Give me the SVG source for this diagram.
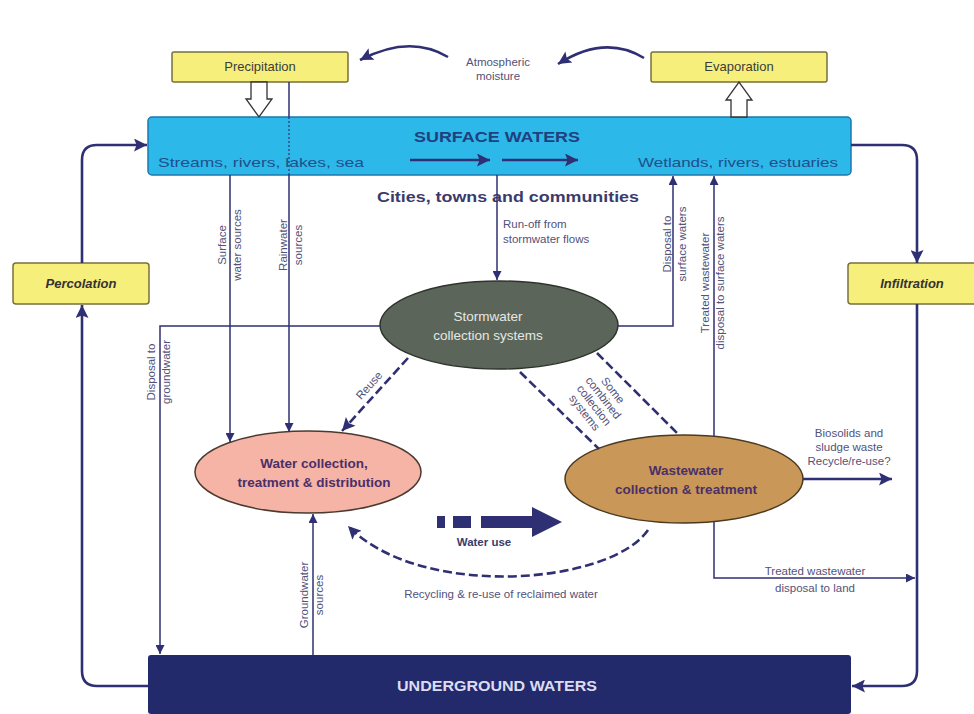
<svg xmlns="http://www.w3.org/2000/svg" width="974" height="714" viewBox="0 0 974 714">
<defs>
<marker id="ah" viewBox="0 0 10 10" refX="10" refY="5" markerWidth="10" markerHeight="9" markerUnits="userSpaceOnUse" orient="auto"><path d="M0,0 L10,5 L0,10 z" fill="#2f2f73"/></marker>
<marker id="ahb" viewBox="0 0 10 10" refX="10" refY="5" markerWidth="15" markerHeight="13" markerUnits="userSpaceOnUse" orient="auto"><path d="M0,0 L10,5 L0,10 L2,5 z" fill="#2f2f73"/></marker>
</defs>
<style>
.t{font-family:"Liberation Sans",Arial,sans-serif}
.lbl{font-family:"Liberation Sans",Arial,sans-serif;font-size:11.5px;fill:#52527a}
.ybox{fill:#f6ef7c;stroke:#77703e;stroke-width:1.5}
.thin{fill:none;stroke:#2f2f73;stroke-width:1.5}
.thick{fill:none;stroke:#2f2f73;stroke-width:2.6}
.dash{fill:none;stroke:#2f2f73;stroke-width:2.6;stroke-dasharray:9 4}
.ell{font-family:"Liberation Sans",Arial,sans-serif;font-size:13.5px;font-weight:bold;fill:#4b2f68;text-anchor:middle}
.yt{font-family:"Liberation Sans",Arial,sans-serif;font-size:13px;fill:#3c3c3c;text-anchor:middle}
.yi{font-family:"Liberation Sans",Arial,sans-serif;font-size:13px;font-weight:bold;font-style:italic;fill:#333;text-anchor:middle}
.hollow{fill:#ffffff;stroke:#333;stroke-width:1.3}
</style>
<rect width="974" height="714" fill="#ffffff"/>

<g id="precipitation">
<rect class="ybox" x="172" y="52" width="176" height="30" rx="2"/>
<text class="yt" x="260" y="71">Precipitation</text>
</g>
<g id="evaporation">
<rect class="ybox" x="651" y="52" width="176" height="30" rx="2"/>
<text class="yt" x="739" y="71">Evaporation</text>
</g>
<g id="atmospheric-moisture">
<text class="lbl" text-anchor="middle" font-size="12"><tspan x="498" y="66">Atmospheric</tspan><tspan x="498" y="80">moisture</tspan></text>
</g>
<g id="surface-waters">
<rect x="148" y="117" width="703" height="58" rx="4" fill="#2db8ea" stroke="#1b78ae" stroke-width="1.5"/>
<text class="t" x="497" y="142" font-size="15" font-weight="bold" fill="#21407e" text-anchor="middle" textLength="166" lengthAdjust="spacingAndGlyphs">SURFACE WATERS</text>
<text class="t" x="158" y="167" font-size="13" fill="#1f4f8c" textLength="206" lengthAdjust="spacingAndGlyphs">Streams, rivers, lakes, sea</text>
<text class="t" x="838" y="167" font-size="13" fill="#1f4f8c" text-anchor="end" textLength="200" lengthAdjust="spacingAndGlyphs">Wetlands, rivers, estuaries</text>
</g>
<g id="percolation">
<rect class="ybox" x="13" y="263" width="136" height="41" rx="3"/>
<text class="yi" x="81" y="288">Percolation</text>
</g>
<g id="infiltration">
<rect class="ybox" x="848" y="263" width="130" height="41" rx="3"/>
<text class="yi" x="912" y="288">Infiltration</text>
</g>
<g id="cities">
<text class="t" x="508" y="202" font-size="15" font-weight="bold" fill="#3b3b6b" text-anchor="middle" textLength="262" lengthAdjust="spacingAndGlyphs">Cities, towns and communities</text>
</g>
<g id="stormwater">
<ellipse cx="499" cy="325" rx="119" ry="44" fill="#5b6559" stroke="#2e342c" stroke-width="1.5"/>
<text class="t" font-size="13.5" fill="#e6e8e2" text-anchor="middle"><tspan x="488" y="321">Stormwater</tspan><tspan x="488" y="340">collection systems</tspan></text>
</g>
<g id="water-collection">
<ellipse cx="308" cy="472" rx="113" ry="41" fill="#f6b4a6" stroke="#4a3a30" stroke-width="1.5"/>
<text class="ell"><tspan x="314" y="468">Water collection,</tspan><tspan x="314" y="487">treatment &amp; distribution</tspan></text>
</g>
<g id="wastewater">
<ellipse cx="684" cy="479" rx="119" ry="44" fill="#c99758" stroke="#4a3a20" stroke-width="1.5"/>
<text class="ell"><tspan x="686" y="475">Wastewater</tspan><tspan x="686" y="494">collection &amp; treatment</tspan></text>
</g>
<g id="underground-waters">
<rect x="148" y="655" width="703" height="59" rx="3" fill="#232a6c"/>
<text class="t" x="497" y="691" font-size="15" font-weight="bold" fill="#dcdcf0" text-anchor="middle" textLength="200" lengthAdjust="spacingAndGlyphs">UNDERGROUND WATERS</text>
</g>

<g id="connectors">
<path class="thick" d="M448,57 Q410,34 360,60" marker-end="url(#ahb)"/>
<path class="thick" d="M644,58 Q605,34 558,64" marker-end="url(#ahb)"/>
<path class="hollow" d="M251,82 V99 H246 L259,117 L272,99 H267 V82 Z"/>
<path class="hollow" d="M731,117 V100 H726 L739,82 L752,100 H747 V117 Z"/>
<path class="thick" d="M410,160 H490" marker-end="url(#ahb)"/>
<path class="thick" d="M502,160 H578" marker-end="url(#ahb)"/>
<path class="thick" d="M82,263 V160 Q82,145 97,145 H147" marker-end="url(#ahb)"/>
<path class="thick" d="M148,686 H97 Q82,686 82,671 V305" marker-end="url(#ahb)"/>
<path class="thick" d="M851,145 H902 Q917,145 917,160 V263" marker-end="url(#ahb)"/>
<path class="thick" d="M917,304 V671 Q917,686 902,686 H852" marker-end="url(#ahb)"/>
<path class="thin" d="M230,175 V442" marker-end="url(#ah)"/>
<path class="thin" d="M289,82 V117"/>
<path d="M289,117 V175" fill="none" stroke="#2f2f73" stroke-width="1.2" stroke-dasharray="2 2"/>
<path class="thin" d="M289,175 V432" marker-end="url(#ah)"/>
<path class="thin" d="M497,175 V280" marker-end="url(#ah)"/>
<path class="thin" d="M380,326 H160 V654" marker-end="url(#ah)"/>
<path class="thin" d="M618,326 H673 V176" marker-end="url(#ah)"/>
<path class="thin" d="M714,436 V176" marker-end="url(#ah)"/>
<path class="thin" d="M714,522 V578 H915" marker-end="url(#ah)"/>
<path class="thin" d="M313,655 V514" marker-end="url(#ah)"/>
<path class="thick" d="M803,479 H892" marker-end="url(#ahb)"/>
<path class="dash" d="M408,358 L342,431" marker-end="url(#ahb)"/>
<path class="dash" d="M520,372 L599,449"/>
<path class="dash" d="M597,353 L679,435"/>
<path class="dash" d="M648,530 C610,585 420,600 348,526" marker-end="url(#ahb)"/>
<rect x="437" y="516" width="8" height="12" fill="#2f2f73"/>
<rect x="453" y="516" width="18" height="12" fill="#2f2f73"/>
<rect x="481" y="516" width="54" height="12" fill="#2f2f73"/>
<path d="M532,507 L562,522 L532,537 Z" fill="#2f2f73"/>
</g>

<g id="labels">
<text class="lbl" transform="translate(226,245) rotate(-90)" text-anchor="middle"><tspan x="0" y="0">Surface</tspan><tspan x="0" y="15">water sources</tspan></text>
<text class="lbl" transform="translate(287,245) rotate(-90)" text-anchor="middle"><tspan x="0" y="0">Rainwater</tspan><tspan x="0" y="15">sources</tspan></text>
<text class="lbl" transform="translate(155,372) rotate(-90)" text-anchor="middle"><tspan x="0" y="0">Disposal to</tspan><tspan x="0" y="15">groundwater</tspan></text>
<text class="lbl" transform="translate(671,244) rotate(-90)" text-anchor="middle"><tspan x="0" y="0">Disposal to</tspan><tspan x="0" y="15">surface waters</tspan></text>
<text class="lbl" transform="translate(709,283) rotate(-90)" text-anchor="middle"><tspan x="0" y="0">Treated wastewater</tspan><tspan x="0" y="15">disposal to surface waters</tspan></text>
<text class="lbl" transform="translate(308,595) rotate(-90)" text-anchor="middle"><tspan x="0" y="0">Groundwater</tspan><tspan x="0" y="15">sources</tspan></text>
<text class="lbl"><tspan x="503" y="228">Run-off from</tspan><tspan x="503" y="243">stormwater flows</tspan></text>
<text class="lbl" transform="translate(372,388) rotate(-48)" text-anchor="middle">Reuse</text>
<text class="lbl" font-size="10.5" transform="translate(598,402) rotate(52)" text-anchor="middle"><tspan x="0" y="-15">Some</tspan><tspan x="0" y="-3">combined</tspan><tspan x="0" y="9">collection</tspan><tspan x="0" y="21">systems</tspan></text>
<text class="t" x="484" y="546" font-size="11.5" font-weight="bold" fill="#3b3b6b" text-anchor="middle">Water use</text>
<text class="lbl" x="501" y="598" text-anchor="middle">Recycling &amp; re-use of reclaimed water</text>
<text class="lbl" font-size="11" text-anchor="middle"><tspan x="849" y="437">Biosolids and</tspan><tspan x="849" y="451">sludge waste</tspan><tspan x="849" y="465">Recycle/re-use?</tspan></text>
<text class="lbl" text-anchor="middle"><tspan x="815" y="575">Treated wastewater</tspan><tspan x="815" y="592">disposal to land</tspan></text>
</g>
</svg>
